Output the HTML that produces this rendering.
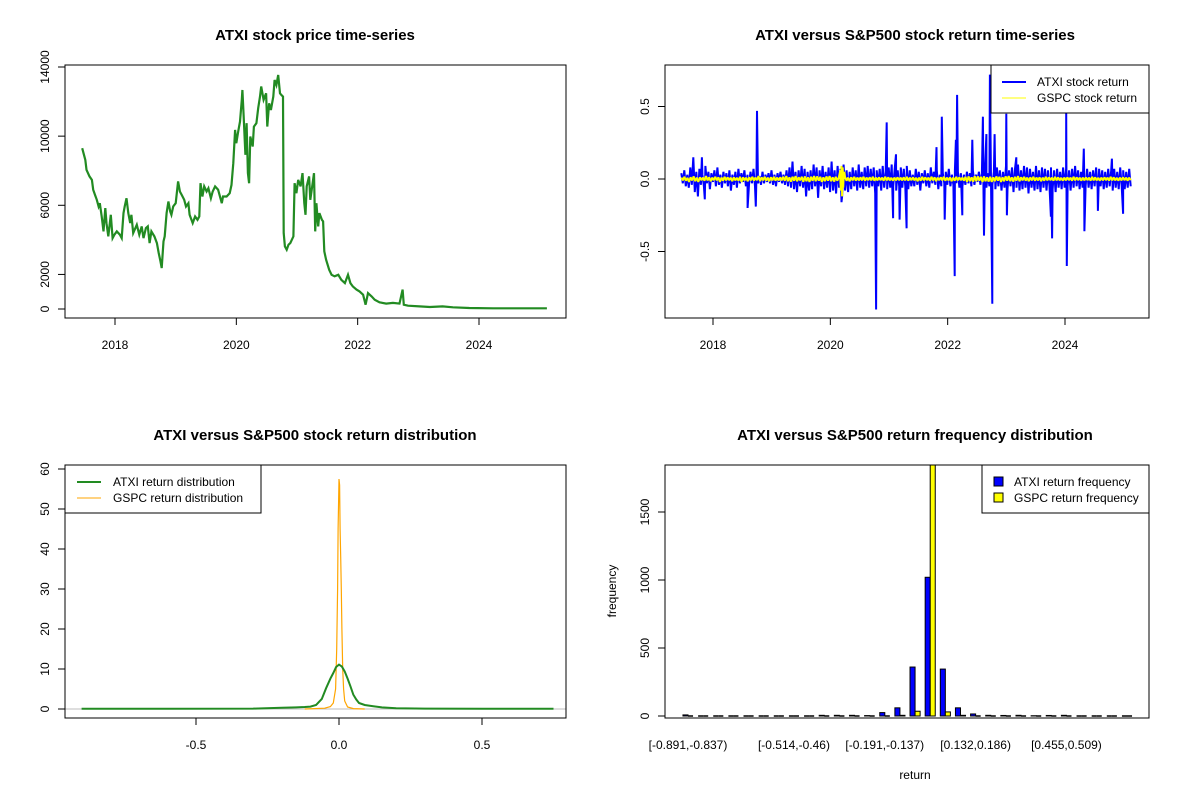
<!DOCTYPE html>
<html><head><meta charset="utf-8"><style>
html,body{margin:0;padding:0;background:#fff;}
svg{display:block;font-family:"Liberation Sans",Arial,sans-serif;}
</style></head><body>
<svg id="chart" width="1200" height="800" viewBox="0 0 1200 800" xmlns="http://www.w3.org/2000/svg"></svg>
<script>
// ---------- Panel 1: ATXI price ----------
const priceDates=[2017.46,2017.51,2017.53,2017.58,2017.62,2017.64,2017.67,2017.70,2017.73,2017.75,2017.78,2017.81,2017.84,2017.86,2017.89,2017.93,2017.96,2017.99,2018.03,2018.08,2018.11,2018.14,2018.16,2018.19,2018.22,2018.25,2018.27,2018.30,2018.36,2018.40,2018.44,2018.47,2018.51,2018.54,2018.57,2018.60,2018.65,2018.69,2018.72,2018.75,2018.77,2018.80,2018.82,2018.85,2018.88,2018.91,2018.93,2018.96,2019.00,2019.04,2019.07,2019.10,2019.14,2019.17,2019.21,2019.23,2019.28,2019.32,2019.36,2019.39,2019.41,2019.44,2019.47,2019.51,2019.54,2019.58,2019.61,2019.65,2019.70,2019.76,2019.78,2019.84,2019.89,2019.92,2019.95,2019.98,2020.00,2020.03,2020.06,2020.09,2020.10,2020.12,2020.15,2020.17,2020.19,2020.21,2020.23,2020.27,2020.29,2020.33,2020.36,2020.39,2020.41,2020.45,2020.49,2020.51,2020.54,2020.57,2020.61,2020.63,2020.66,2020.69,2020.72,2020.74,2020.77,2020.78,2020.80,2020.83,2020.86,2020.89,2020.94,2020.96,2020.99,2021.02,2021.06,2021.09,2021.12,2021.14,2021.16,2021.20,2021.22,2021.25,2021.28,2021.30,2021.32,2021.35,2021.37,2021.41,2021.43,2021.45,2021.48,2021.53,2021.57,2021.62,2021.68,2021.73,2021.79,2021.84,2021.88,2021.92,2021.98,2022.03,2022.09,2022.13,2022.17,2022.23,2022.28,2022.36,2022.47,2022.58,2022.69,2022.74,2022.76,2022.83,2023.02,2023.19,2023.40,2023.57,2023.84,2024.23,2024.78,2025.12];
const priceValues=[9300,8630,8050,7670,7470,6900,6600,6320,5930,6120,5350,4490,5840,4970,4200,5450,4100,4300,4490,4300,4100,5550,5930,6410,5550,4970,5450,4390,4870,4300,4780,4100,4680,4780,3810,4490,4200,3810,3240,2750,2370,3910,4200,5550,6220,5640,5450,5930,6120,7380,6800,6600,6320,5930,6120,5450,4970,5350,5160,5350,7280,6510,7090,6800,6990,6410,6800,7090,6900,6120,6510,6510,6700,7180,8440,10360,9590,10270,10840,12100,12670,11230,8920,10750,7860,7280,9980,9400,10550,10750,11620,12290,12870,12100,12480,10550,11900,11510,12290,13250,12960,13540,12480,12390,12290,4390,3620,3430,3720,3810,4200,7280,6700,7470,7090,7860,6120,5450,7090,7670,6320,7090,7860,4490,6120,4780,5550,5160,5070,3330,2850,2270,1980,1890,1980,1690,1500,1980,1500,1310,1120,1020,830,250,920,730,540,385,310,350,310,1120,250,190,150,115,150,100,60,40,40,40];
const priceTicks=[0,2000,6000,10000,14000];
const yearTicks=[2018,2020,2022,2024];

// ---------- Panel 2: returns ----------
const retStart=2017.46, retEnd=2025.12;
const atxiBase=[0.04,-0.03,0.06,-0.05,0.03,-0.06,0.08,-0.04,0.15,-0.09,0.05,-0.12,0.07,-0.04,0.03,-0.05,0.09,-0.03,0.05,-0.07,0.04,-0.02,0.06,-0.05,0.08,-0.04,0.03,-0.06,0.05,-0.03,0.04,-0.05,0.06,-0.08,0.03,-0.04,0.05,-0.06,0.07,-0.03,0.04,-0.02,0.06,-0.05,0.03,-0.04,0.05,-0.03,0.07,-0.05,0.04,-0.03,0.02,-0.04,0.05,-0.03,0.03,-0.02,0.04,-0.03,0.06,-0.04,0.03,-0.05,0.04,-0.02,0.05,-0.03,0.03,-0.04,0.06,-0.05,0.08,-0.06,0.12,-0.07,0.05,-0.09,0.06,-0.05,0.09,-0.06,0.07,-0.12,0.05,-0.08,0.06,-0.07,0.10,-0.05,0.08,-0.13,0.06,-0.05,0.09,-0.07,0.05,-0.06,0.08,-0.09,0.12,-0.08,0.06,-0.10,0.09,-0.06,0.07,-0.12,0.10,-0.08,0.06,-0.09,0.05,-0.07,0.08,-0.05,0.06,-0.08,0.10,-0.06,0.05,-0.07,0.08,-0.05,0.09,-0.06,0.07,-0.05,0.08,-0.10,0.06,-0.05,0.07,-0.08,0.09,-0.06,0.05,-0.07,0.08,-0.06,0.10,-0.05,0.07,-0.08,0.06,-0.05,0.08,-0.06,0.07,-0.05,0.09,-0.07,0.06,-0.05,
0.03,-0.05,0.07,-0.04,0.05,-0.08,0.04,-0.03,0.06,-0.05,0.04,-0.06,0.08,-0.03,0.05,-0.04,0.06,-0.07,0.03,-0.05,0.04,-0.03,0.05,-0.04,0.07,-0.05,0.03,-0.04,0.06,-0.03,0.05,-0.06,0.04,-0.05,0.03,-0.04,0.05,-0.03,0.04,-0.05,0.06,-0.04,0.03,-0.02,0.05,-0.04,0.04,-0.03,0.05,-0.06,0.04,-0.05,0.06,-0.04,0.05,-0.07,0.08,-0.05,0.06,-0.08,0.05,-0.06,0.09,-0.07,0.06,-0.05,0.08,-0.09,0.07,-0.06,0.10,-0.08,0.06,-0.07,0.09,-0.06,0.08,-0.10,0.07,-0.06,0.05,-0.08,0.09,-0.07,0.06,-0.09,0.08,-0.06,0.07,-0.08,0.06,-0.05,0.08,-0.07,0.06,-0.09,0.07,-0.06,0.05,-0.07,0.08,-0.06,0.07,-0.05,0.06,-0.08,0.07,-0.06,0.09,-0.05,0.06,-0.07,0.05,-0.06,0.08,-0.05,0.07,-0.06,0.05,-0.07,0.06,-0.05,0.08,-0.06,0.07,-0.05,0.06,-0.07,0.05,-0.06,0.07,-0.05,0.06,-0.08,0.07,-0.06,0.05,-0.07,0.08,-0.05,0.06,-0.07,0.05,-0.06,0.07,-0.05];
const spikeDates=[2017.81,2017.86,2018.59,2018.73,2018.75,2020.19,2020.78,2020.96,2021.07,2021.12,2021.18,2021.30,2021.81,2021.90,2021.95,2022.12,2022.14,2022.16,2022.25,2022.42,2022.60,2022.62,2022.66,2022.72,2022.76,2022.80,2023.00,2023.01,2023.17,2023.76,2023.78,2024.02,2024.03,2024.32,2024.33,2024.56,2024.80,2024.99];
const spikeValues=[0.15,-0.14,-0.20,-0.19,0.47,-0.16,-0.90,0.39,-0.27,0.17,-0.28,-0.34,0.22,0.43,-0.28,-0.67,0.27,0.58,-0.25,0.27,0.43,-0.39,0.31,0.72,-0.86,0.31,0.45,-0.25,0.15,-0.26,-0.41,0.48,-0.60,0.21,-0.36,-0.22,0.14,-0.24];
const gspcBase=[0.01,-0.01,0.015,-0.012,0.008,-0.02,0.012,-0.01,0.018,-0.015,0.01,-0.02,0.012,-0.008,0.01,-0.012,0.02,-0.01,0.012,-0.015,0.01,-0.008,0.015,-0.01,0.012,-0.02,0.01,-0.012,0.015,-0.01,0.012,-0.008,0.01,-0.015,0.012,-0.01,0.008,-0.012,0.015,-0.02,0.012,-0.01,0.01,-0.015,0.012,-0.01,0.015,-0.012,0.01,-0.008,0.02,-0.015,0.012,-0.01,0.015,-0.012,0.01,-0.015,0.012,-0.01,0.015,-0.012,0.01,-0.01,0.012,-0.01,0.015,-0.012,0.02,-0.015,0.012,-0.018,0.015,-0.012,0.02,-0.015,0.012,-0.01,0.015,-0.02,0.018,-0.015,0.012,-0.02,0.015,-0.012,0.02,-0.015,0.018,-0.012,0.015,-0.02,0.012,-0.015,0.018,-0.012,0.02,-0.015,0.012,-0.018,0.015,-0.012,0.01,-0.015,0.012,-0.01,0.015,-0.012,0.01,-0.015,0.012,-0.01,0.015,-0.012,0.01,-0.01,0.012,-0.01,0.015,-0.012,0.01,-0.008,0.012,-0.01,0.015,-0.012,0.01,-0.01,0.012,-0.008,0.01,-0.012,0.015,-0.01,0.012,-0.01,0.008,-0.012,0.01,-0.01,0.012,-0.008,0.01,-0.01,0.012,-0.01,0.015,-0.012,0.01,-0.008,
0.012,-0.01,0.008,-0.015,0.01,-0.012,0.015,-0.01,0.012,-0.008,0.01,-0.012,0.015,-0.01,0.012,-0.015,0.01,-0.008,0.012,-0.01,0.015,-0.012,0.01,-0.01,0.012,-0.015,0.01,-0.012,0.015,-0.01,0.012,-0.008,0.01,-0.012,0.015,-0.02,0.018,-0.015,0.012,-0.018,0.02,-0.015,0.018,-0.012,0.015,-0.02,0.018,-0.015,0.012,-0.018,0.015,-0.02,0.012,-0.015,0.018,-0.012,0.015,-0.02,0.012,-0.015,0.018,-0.012,0.02,-0.015,0.012,-0.018,0.015,-0.012,0.02,-0.015,0.012,-0.01,0.015,-0.012,0.01,-0.015,0.012,-0.01,0.015,-0.012,0.01,-0.01,0.012,-0.015,0.01,-0.012,0.015,-0.01,0.012,-0.008,0.01,-0.012,0.015,-0.01,0.012,-0.01,0.008,-0.012,0.01,-0.01,0.012,-0.008,0.01,-0.012,0.015,-0.01,0.012,-0.008,0.01,-0.012,0.01,-0.01,0.012,-0.008,0.01,-0.012,0.015,-0.01,0.012,-0.01,0.008,-0.012,0.01,-0.01,0.012,-0.008,0.01,-0.012,0.015,-0.01,0.012,-0.01,0.008,-0.012,0.01,-0.01,0.012,-0.008,0.01,-0.012,0.01,-0.008];
const gspcSpikeDates=[2020.17,2020.18,2020.19,2020.20,2020.21,2020.22,2020.24];
const gspcSpikeValues=[0.06,-0.08,0.09,-0.12,0.08,-0.06,0.05];
const retTicks=[-0.5,0.0,0.5];

// ---------- Panel 3: densities ----------
const densAtxiX=[-0.9,-0.6,-0.3,-0.2,-0.15,-0.12,-0.1,-0.08,-0.06,-0.045,-0.03,-0.02,-0.01,0,0.01,0.02,0.03,0.04,0.05,0.06,0.07,0.09,0.12,0.15,0.2,0.3,0.5,0.75];
const densAtxiY=[0.05,0.05,0.1,0.3,0.4,0.5,0.6,1.0,2.5,5.2,7.6,9.0,10.5,11.1,10.6,9.4,7.6,5.7,3.6,2.4,1.5,1.0,0.7,0.4,0.2,0.1,0.05,0.05];
const densGspcX=[-0.12,-0.05,-0.03,-0.02,-0.012,-0.008,-0.005,-0.003,0,0.002,0.004,0.006,0.008,0.01,0.013,0.016,0.02,0.03,0.05,0.09];
const densGspcY=[0,0.2,0.6,1.5,5,15,30,45,57.5,56,45,38,30,20,10,5,2,0.5,0.1,0];
const densTicksY=[0,10,20,30,40,50,60];
const densTicksX=[-0.5,0.0,0.5];

// ---------- Panel 4: histogram ----------
const histLabels=["[-0.891,-0.837)","","","","","","","[-0.514,-0.46)","","","","","","[-0.191,-0.137)","","","","","","[0.132,0.186)","","","","","","[0.455,0.509)","","","",""];
const histAtxi=[8,0,0,0,0,0,0,0,0,5,5,5,3,25,60,360,1020,345,60,15,5,4,5,2,4,5,0,0,0,0];
const histGspc=[0,0,0,0,0,0,0,0,0,0,0,0,0,0,5,35,1900,30,5,0,0,0,0,0,0,0,0,0,0,0];
const histTicks=[0,500,1000,1500];

// ---------- drawing ----------
const NS="http://www.w3.org/2000/svg";
const svg=document.getElementById('chart');
function mk(tag,attrs,parent){const e=document.createElementNS(NS,tag);for(const k in attrs)e.setAttribute(k,attrs[k]);(parent||svg).appendChild(e);return e;}
function txt(s,x,y,attrs,parent){const t=mk('text',Object.assign({x:x,y:y,'font-size':12,'text-anchor':'middle',fill:'#000'},attrs||{}),parent);t.textContent=s;return t;}
function lin(d0,d1,r0,r1){return v=>r0+(v-d0)*(r1-r0)/(d1-d0);}
function groupEl(name){const g=mk('g',{});return g;}
function frame(g,x0,y0,x1,y1){const r=mk('rect',{x:x0,y:y0,width:x1-x0,height:y1-y0,fill:'none',stroke:'#000','stroke-width':1},g);}
function title(g,s,x,y){const t=txt(s,x,y,{'font-size':15,'font-weight':'bold'},g);}
function yAxis(g,ticks,sy,x0,fmt){const a=mk('g',{},g);
 const ys=ticks.map(sy);mk('line',{x1:x0,x2:x0,y1:Math.min(...ys),y2:Math.max(...ys),stroke:'#000'},a);
 ticks.forEach(v=>{const y=sy(v);mk('line',{x1:x0-7,x2:x0,y1:y,y2:y,stroke:'#000'},a);const t=txt(fmt?fmt(v):String(v),x0-16,y,{transform:`rotate(-90 ${x0-16} ${y})`},a);});}
function xAxis(g,ticks,sx,y0,fmt,labels){const a=mk('g',{},g);
 const xs=ticks.map(sx);mk('line',{x1:Math.min(...xs),x2:Math.max(...xs),y1:y0,y2:y0,stroke:'#000'},a);
 ticks.forEach((v,i)=>{const x=sx(v);mk('line',{x1:x,x2:x,y1:y0,y2:y0+7,stroke:'#000'},a);const t=txt(labels?labels[i]:(fmt?fmt(v):String(v)),x,y0+31,{},a);});}
function clip(id,x0,y0,x1,y1){const c=mk('clipPath',{id:id});mk('rect',{x:x0,y:y0,width:x1-x0,height:y1-y0},c);}

// Panel 1
(function(){const g=groupEl('price-panel');
 const sx=lin(2018,2024,115,479), sy=lin(0,14000,309,67);
 title(g,'ATXI stock price time-series',315,40);
 const pts=priceDates.map((d,i)=>sx(d).toFixed(1)+','+sy(priceValues[i]).toFixed(1)).join(' ');
 const p=mk('polyline',{points:pts,fill:'none',stroke:'#228B22','stroke-width':2.2,'stroke-linejoin':'miter'},g);
 
 frame(g,65,65,566,318);
 yAxis(g,priceTicks,sy,65);
 xAxis(g,yearTicks,sx,318);
})();

// Panel 2
(function(){const g=groupEl('return-panel');
 const sx=lin(2018,2024,713,1065), sy=lin(0,0.5,179,106.5);
 title(g,'ATXI versus S&P500 stock return time-series',915,40);
 clip('c2',665,65,1149,318);
 function series(base,sd,sv){const step=(retEnd-retStart)/(base.length-1);const arr=base.map((v,i)=>[retStart+i*step,v]);sd.forEach((d,i)=>arr.push([d,sv[i]]));arr.sort((a,b)=>a[0]-b[0]);return arr;}
 const a=series(atxiBase,spikeDates,spikeValues);
 const pa=mk('polyline',{points:a.map(p=>sx(p[0]).toFixed(1)+','+sy(p[1]).toFixed(1)).join(' '),fill:'none',stroke:'#0000FF','stroke-width':2,'stroke-linejoin':'bevel','clip-path':'url(#c2)'},g);
 
 const b=series(gspcBase,gspcSpikeDates,gspcSpikeValues);
 const pb=mk('polyline',{points:b.map(p=>sx(p[0]).toFixed(1)+','+sy(p[1]).toFixed(1)).join(' '),fill:'none',stroke:'#FFFF00','stroke-width':2,'stroke-linejoin':'bevel','clip-path':'url(#c2)'},g);
 
 frame(g,665,65,1149,318);
 yAxis(g,retTicks,sy,665,v=>v.toFixed(1));
 xAxis(g,yearTicks,sx,318);
 const lg=mk('g',{},g);
 mk('rect',{x:991,y:65,width:158,height:48,fill:'#fff',stroke:'#000'},lg);
 mk('line',{x1:1002,x2:1026,y1:82,y2:82,stroke:'#0000FF','stroke-width':2},lg);
 mk('line',{x1:1002,x2:1026,y1:98,y2:98,stroke:'#FFFF00','stroke-width':1},lg);
 let t=txt('ATXI stock return',1037,86,{'text-anchor':'start'},lg);
 t=txt('GSPC stock return',1037,102,{'text-anchor':'start'},lg);
})();

// Panel 3
(function(){const g=groupEl('density-panel');
 const sx=lin(0,0.5,339,482), sy=lin(0,60,709,469);
 title(g,'ATXI versus S&P500 stock return distribution',315,440);
 clip('c3',65,465,566,718);
 const zl=mk('line',{x1:65,x2:566,y1:sy(0),y2:sy(0),stroke:'#bebebe'},g);
 const pg=mk('polyline',{points:densGspcX.map((x,i)=>sx(x).toFixed(1)+','+sy(densGspcY[i]).toFixed(1)).join(' '),fill:'none',stroke:'#FFA500','stroke-width':1.2,'clip-path':'url(#c3)'},g);
 
 const pa=mk('polyline',{points:densAtxiX.map((x,i)=>sx(x).toFixed(1)+','+sy(densAtxiY[i]).toFixed(1)).join(' '),fill:'none',stroke:'#228B22','stroke-width':2,'clip-path':'url(#c3)'},g);
 
 frame(g,65,465,566,718);
 yAxis(g,densTicksY,sy,65);
 xAxis(g,densTicksX,sx,718,v=>v.toFixed(1));
 const lg=mk('g',{},g);
 mk('rect',{x:65,y:465,width:196,height:48,fill:'#fff',stroke:'#000'},lg);
 mk('line',{x1:77,x2:101,y1:482,y2:482,stroke:'#228B22','stroke-width':2},lg);
 mk('line',{x1:77,x2:101,y1:498,y2:498,stroke:'#FFA500','stroke-width':1},lg);
 let t=txt('ATXI return distribution',113,486,{'text-anchor':'start'},lg);
 t=txt('GSPC return distribution',113,502,{'text-anchor':'start'},lg);
})();

// Panel 4
(function(){const g=groupEl('histogram-panel');
 const U=485/(89*1.08), x0=665+0.04*89*U-U;
 const bx=i=>x0+(1+3*i)*U; // left edge of blue bar in group i
 const sy=lin(0,500,716,648);
 title(g,'ATXI versus S&P500 return frequency distribution',915,440);
 clip('c4',665,465,1149,718);
 function bar(x,v,fill,name){
  if(v>0){const r=mk('rect',{x:x,y:sy(v),width:U,height:sy(0)-sy(v),fill:fill,stroke:'#000','stroke-width':1,'clip-path':'url(#c4)'},g);
   }
  else{const l=mk('line',{x1:x,x2:x+U,y1:sy(0),y2:sy(0),stroke:'#000','stroke-width':1.5},g);
   }
 }
 histAtxi.forEach((v,i)=>bar(bx(i),v,'#0000FF','bar-atxi'));
 histGspc.forEach((v,i)=>bar(bx(i)+U,v,'#FFFF00','bar-gspc'));
 frame(g,665,465,1149,718);
 yAxis(g,histTicks,sy,665);
 histLabels.forEach((s,i)=>{if(!s)return;const t=txt(s,bx(i)+U,749,{},g);});
 let t=txt('return',915,779,{},g);
 t=txt('frequency',616,591,{transform:'rotate(-90 616 591)'},g);
 const lg=mk('g',{},g);
 mk('rect',{x:982,y:465,width:167,height:48,fill:'#fff',stroke:'#000'},lg);
 mk('rect',{x:994,y:477,width:9,height:9,fill:'#0000FF',stroke:'#000'},lg);
 mk('rect',{x:994,y:493,width:9,height:9,fill:'#FFFF00',stroke:'#000'},lg);
 t=txt('ATXI return frequency',1014,486,{'text-anchor':'start'},lg);
 t=txt('GSPC return frequency',1014,502,{'text-anchor':'start'},lg);
})();
</script>
</body></html>
